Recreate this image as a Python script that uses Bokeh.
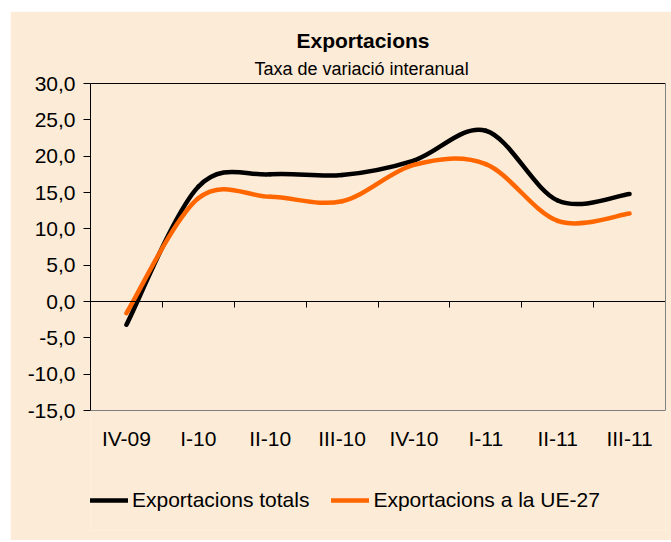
import numpy as np
from bokeh.plotting import figure
from bokeh.models import (FixedTicker, LinearAxis, Title, Legend, LegendItem,
                          Range1d, CustomJSTickFormatter, ColumnDataSource)
from bokeh.embed import file_html
from bokeh.resources import INLINE

# ---- data ----
quarters = ["IV-09", "I-10", "II-10", "III-10", "IV-10", "I-11", "II-11", "III-11"]
exp_total = [-3.2, 15.8, 17.5, 17.4, 19.4, 23.5, 13.9, 14.8]
exp_ue27 = [-1.6, 14.2, 14.4, 13.8, 18.8, 18.9, 11.1, 12.1]
y_ticks = [-15, -10, -5, 0, 5, 10, 15, 20, 25, 30]

title_text = "Exportacions"
subtitle_text = "Taxa de variació interanual"
series_names = ["Exportacions totals", "Exportacions a la UE-27"]

BG = "#FCEBD6"
FONT = "Liberation Sans"

# layout (pixels)
PLOT_H = 327      # height of the value area (30 .. -15)
FRAME_H = 447     # frame extends below to hold the legend
FRAME_W = 575


def smooth_source(xs, ys):
    """Catmull-Rom style Bezier segments (like Excel's smoothed line)."""
    n = len(xs)
    P = list(zip(xs, ys))
    d = dict(x0=[], y0=[], x1=[], y1=[], cx0=[], cy0=[], cx1=[], cy1=[])
    for i in range(n - 1):
        p0 = P[i - 1] if i > 0 else P[i]
        p1 = P[i]
        p2 = P[i + 1]
        p3 = P[i + 2] if i + 2 < n else P[i + 1]
        d["x0"].append(p1[0]); d["y0"].append(p1[1])
        d["x1"].append(p2[0]); d["y1"].append(p2[1])
        d["cx0"].append(p1[0] + (p2[0] - p0[0]) / 6)
        d["cy0"].append(p1[1] + (p2[1] - p0[1]) / 6)
        d["cx1"].append(p2[0] - (p3[0] - p1[0]) / 6)
        d["cy1"].append(p2[1] - (p3[1] - p1[1]) / 6)
    return ColumnDataSource(d)


xpos = [i + 0.5 for i in range(len(quarters))]
y_lo, y_hi = y_ticks[0], y_ticks[-1]
y_view_lo = y_lo - (FRAME_H - PLOT_H) * (y_hi - y_lo) / PLOT_H

p = figure(frame_width=FRAME_W, frame_height=FRAME_H, output_backend="svg",
           toolbar_location=None, title=None,
           x_range=Range1d(0, len(quarters)), y_range=Range1d(y_view_lo, y_hi),
           min_border_left=80, min_border_right=6, min_border_top=72, min_border_bottom=10,
           background_fill_color=BG, border_fill_color=BG, margin=(11, 0, 0, 10))
p.grid.visible = False
p.outline_line_color = None

# curves
r_tot = p.bezier(x0="x0", y0="y0", x1="x1", y1="y1", cx0="cx0", cy0="cy0", cx1="cx1", cy1="cy1",
                 source=smooth_source(xpos, exp_total), line_color="black", line_width=4.5,
                 line_cap="round")
r_ue = p.bezier(x0="x0", y0="y0", x1="x1", y1="y1", cx0="cx0", cy0="cy0", cx1="cx1", cy1="cy1",
                source=smooth_source(xpos, exp_ue27), line_color="#FF6600", line_width=4.5,
                line_cap="round")

# x axis: category labels, drawn at the bottom of the value area (-15)
xa = p.xaxis[0]
xa.fixed_location = y_lo
xa.ticker = FixedTicker(ticks=xpos)
xa.formatter = CustomJSTickFormatter(args=dict(labels=quarters),
                                     code="return labels[Math.floor(tick)];")
xa.major_tick_line_color = None
xa.minor_tick_line_color = None
xa.axis_line_color = "#808080"
xa.major_label_standoff = 10
xa.major_label_text_font = FONT
xa.major_label_text_font_size = "21px"
xa.major_label_text_color = "black"

# zero line axis with ticks at category boundaries
za = LinearAxis(fixed_location=0, ticker=FixedTicker(ticks=list(range(len(quarters) + 1))),
                formatter=CustomJSTickFormatter(code="return '';"),
                major_tick_in=0, major_tick_out=6, minor_tick_line_color=None,
                axis_line_color="black", major_tick_line_color="black",
                major_label_standoff=0)
p.add_layout(za, "below")

# top border line
ta = LinearAxis(ticker=FixedTicker(ticks=[]), axis_line_color="black",
                minor_tick_line_color=None, major_tick_line_color=None,
                major_label_standoff=0)
p.add_layout(ta, "above")

# right border line (only over the value area)
ra = LinearAxis(ticker=FixedTicker(ticks=[]), bounds=(y_lo, y_hi), axis_line_color="#808080",
                minor_tick_line_color=None, major_tick_line_color=None,
                major_label_standoff=0)
p.add_layout(ra, "right")

# y axis
ya = p.yaxis[0]
ya.bounds = (y_lo, y_hi)
ya.ticker = FixedTicker(ticks=y_ticks)
ya.formatter = CustomJSTickFormatter(code="return tick.toFixed(1).replace('.', ',');")
ya.major_tick_in = 0
ya.major_tick_out = 7
ya.minor_tick_line_color = None
ya.axis_line_color = "black"
ya.major_tick_line_color = "black"
ya.major_label_standoff = 8
ya.major_label_text_font = FONT
ya.major_label_text_font_size = "21px"
ya.major_label_text_color = "black"

# titles (subtitle first -> closest to the frame)
p.add_layout(Title(text=subtitle_text, text_font=FONT, text_font_size="18px",
                   text_font_style="normal", align="left", offset=164,
                   standoff=10, text_color="black"), "above")
p.add_layout(Title(text=title_text, text_font=FONT, text_font_size="21px",
                   text_font_style="bold", align="left", offset=206,
                   standoff=0, text_color="black"), "above")

legend = Legend(items=[LegendItem(label=series_names[0], renderers=[r_tot]),
                       LegendItem(label=series_names[1], renderers=[r_ue])],
                orientation="horizontal", location=(0, 18),
                glyph_width=38, glyph_height=20, label_standoff=4, spacing=22,
                padding=0, margin=0, border_line_color=None, background_fill_alpha=0,
                label_text_font=FONT, label_text_font_size="21px", label_text_color="black")
p.add_layout(legend, "center")

open("out.html", "w").write(file_html(p, INLINE))
